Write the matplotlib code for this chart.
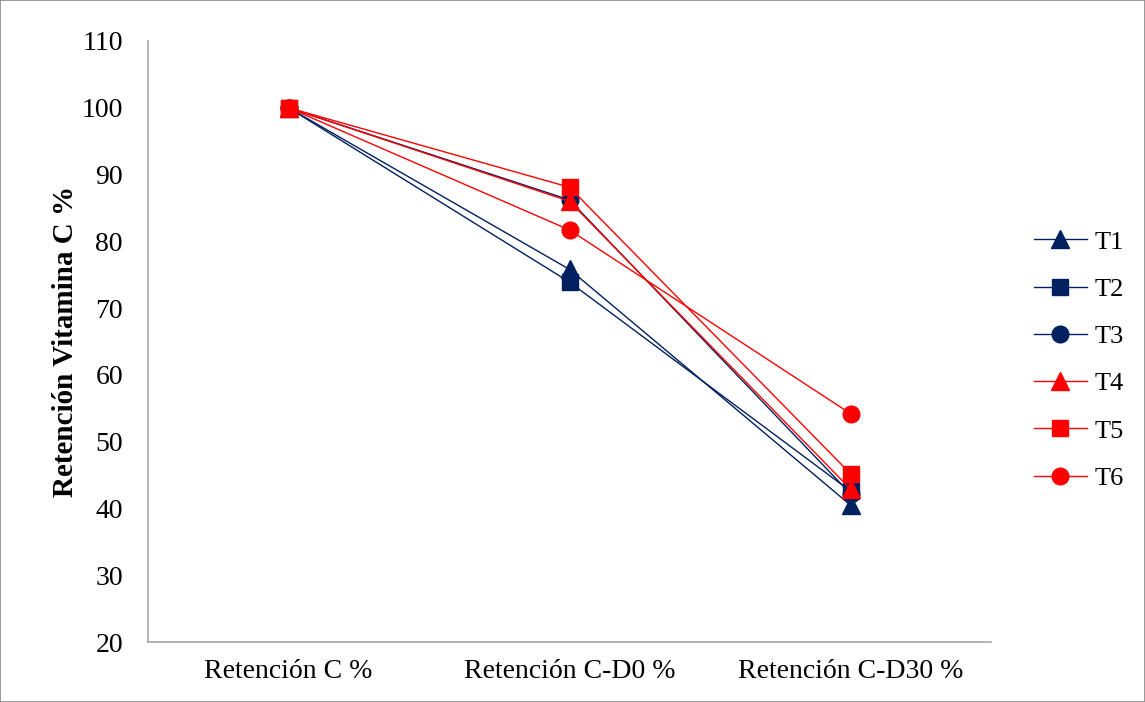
import matplotlib.pyplot as plt
from matplotlib.patches import Rectangle

plt.rcParams['font.family'] = ['Liberation Serif', 'DejaVu Serif']

categories = ['Retención C %', 'Retención C-D0 %', 'Retención C-D30 %']
series_names = ['T1', 'T2', 'T3', 'T4', 'T5', 'T6']
t1 = [100, 75.8, 40.5]
t2 = [100, 73.9, 42.6]
t3 = [100, 86.2, 42.2]
t4 = [100, 86.0, 42.9]
t5 = [100, 88.1, 45.2]
t6 = [100, 81.7, 54.2]
values = [t1, t2, t3, t4, t5, t6]

navy = '#002060'
red = '#FF0000'
colors = [navy, navy, navy, red, red, red]
markers = ['^', 's', 'o', '^', 's', 'o']
msizes = [13, 12, 12, 13, 12, 12]
# the T5 square sits on top of the others in the original
zorders = [2, 2, 2, 2, 3, 2]

fig = plt.figure(figsize=(11.45, 7.02), dpi=100)
ax = fig.add_axes([148 / 1145, 1 - 642 / 702, (991 - 148) / 1145, (642 - 41) / 702])

x = [0.5, 1.5, 2.5]
for name, vals, c, m, ms, z in zip(series_names, values, colors, markers, msizes, zorders):
    ax.plot(x, vals, color=c, marker=m, markersize=ms, linewidth=1, label=name, zorder=z)

ax.set_xlim(0, 3)
ax.set_ylim(20, 110)
ax.set_yticks(range(20, 111, 10))
ax.set_xticks(x)
ax.set_xticklabels(categories, fontsize=20)
ax.tick_params(axis='x', length=0, pad=12)
ax.tick_params(axis='y', labelsize=20, length=0, pad=18)
ax.set_ylabel('Retención Vitamina C %', fontsize=21, fontweight='bold', labelpad=2)

for side in ['top', 'right']:
    ax.spines[side].set_visible(False)
for side in ['left', 'bottom']:
    ax.spines[side].set_color('#A6A6A6')
    ax.spines[side].set_linewidth(1.2)

ax.legend(loc='center left', bbox_to_anchor=(1034 / 1145, 1 - 360 / 702),
          bbox_transform=fig.transFigure, frameon=False, fontsize=19,
          handlelength=2.0, labelspacing=0.9, handletextpad=0.3, borderaxespad=0,
          borderpad=0)

fig.patches.append(Rectangle((0, 0), 1, 1, transform=fig.transFigure,
                             fill=False, edgecolor='#888888', linewidth=1.2))

fig.savefig('out.png', dpi=100)
